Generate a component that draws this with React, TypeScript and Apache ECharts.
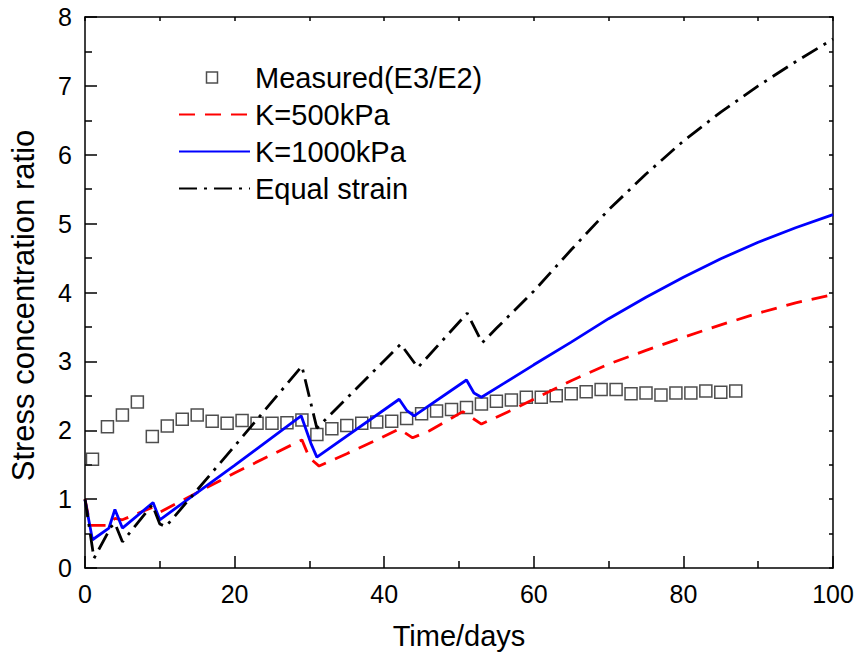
import React, { useEffect, useRef } from "react";
import * as echarts from "echarts";

// Measured (E3/E2)
const measuredX = [1, 3, 5, 7, 9, 11, 13, 15, 17, 19, 21, 23, 25, 27, 29, 31, 33, 35, 37, 39, 41, 43, 45, 47, 49, 51, 53, 55, 57, 59, 61, 63, 65, 67, 69, 71, 73, 75, 77, 79, 81, 83, 85, 87];
const measuredY = [1.58, 2.05, 2.22, 2.41, 1.91, 2.06, 2.16, 2.22, 2.13, 2.10, 2.14, 2.10, 2.10, 2.11, 2.15, 1.94, 2.02, 2.07, 2.10, 2.12, 2.13, 2.17, 2.24, 2.28, 2.30, 2.33, 2.38, 2.42, 2.44, 2.48, 2.48, 2.50, 2.53, 2.56, 2.59, 2.59, 2.53, 2.54, 2.51, 2.54, 2.54, 2.57, 2.55, 2.57];

// K = 500 kPa
const k500X = [0, 0.7, 3, 4, 5, 9, 10, 13, 20, 29, 30, 31.3, 35, 39.4, 42, 43.8, 46, 50.5, 53, 57, 60, 65, 70, 75, 80, 85, 90, 95, 100];
const k500Y = [1.0, 0.62, 0.62, 0.72, 0.70, 0.88, 0.81, 0.98, 1.38, 1.86, 1.60, 1.48, 1.66, 1.88, 2.02, 1.89, 1.99, 2.27, 2.09, 2.29, 2.45, 2.72, 2.96, 3.16, 3.35, 3.53, 3.70, 3.85, 3.97];

// K = 1000 kPa
const k1000X = [0, 1, 3.2, 4, 5, 9.1, 10, 20, 28.9, 30.2, 31, 42, 43, 44, 51, 52, 53, 56, 60, 65, 70, 75, 80, 85, 90, 95, 100];
const k1000Y = [0.99, 0.41, 0.58, 0.85, 0.58, 0.95, 0.70, 1.49, 2.21, 1.81, 1.61, 2.45, 2.29, 2.21, 2.73, 2.54, 2.48, 2.68, 2.95, 3.28, 3.62, 3.93, 4.22, 4.49, 4.73, 4.94, 5.13];

// Equal strain
const equalX = [0, 1.2, 3.5, 4, 5, 9, 10, 10.8, 20, 29, 31, 42.2, 44.5, 51.1, 53.1, 55, 60, 65, 70, 75, 80, 85, 90, 95, 100];
const equalY = [1.0, 0.14, 0.60, 0.65, 0.38, 0.92, 0.64, 0.60, 1.77, 2.93, 2.03, 3.25, 2.91, 3.70, 3.27, 3.48, 4.02, 4.62, 5.20, 5.72, 6.20, 6.62, 7.00, 7.35, 7.68];

const seriesNames = ["Measured(E3/E2)", "K=500kPa", "K=1000kPa", "Equal strain"];

const pairs = (xs: number[], ys: number[]) => xs.map((x, i) => [x, ys[i]]);

const FONT = "'Liberation Sans', Arial, Helvetica, sans-serif";

export default function App() {
  const ref = useRef<HTMLDivElement>(null);
  useEffect(() => {
    if (!ref.current) return;
    const chart = echarts.init(ref.current, undefined, { renderer: "svg" });
    const axisLine = { show: true, onZero: false, lineStyle: { color: "#000", width: 1.5 } };
    const noSymbol = { color: "rgba(0,0,0,0)", borderWidth: 0, opacity: 0 };
    chart.setOption({
      animation: false,
      backgroundColor: "#fff",
      textStyle: { fontFamily: FONT },
      grid: { left: 83, right: 25, top: 17, bottom: 94, containLabel: false },
      legend: {
        orient: "vertical",
        left: 173,
        top: 58,
        itemWidth: 71,
        itemHeight: 12,
        itemGap: 8,
        textStyle: { fontSize: 29, color: "#000", fontFamily: FONT },
        data: [
          {
            name: seriesNames[0],
            icon: "path://M0,0M71,12M27.5,0.5h11v11h-11z",
            itemStyle: { color: "rgba(0,0,0,0)", borderColor: "#222", borderWidth: 1.5 },
          },
          { name: seriesNames[1], itemStyle: noSymbol },
          { name: seriesNames[2], itemStyle: noSymbol },
          { name: seriesNames[3], itemStyle: noSymbol },
        ],
      },
      xAxis: [
        {
          type: "value",
          position: "bottom",
          min: 0,
          max: 100,
          interval: 20,
          name: "Time/days",
          nameLocation: "middle",
          nameGap: 53,
          nameTextStyle: { fontSize: 29, color: "#000", fontFamily: FONT },
          axisLine,
          axisTick: { show: true, inside: true, length: 12, lineStyle: { color: "#000", width: 1.5 } },
          minorTick: { show: true, splitNumber: 2, length: 7, lineStyle: { color: "#000", width: 1.5 } },
          axisLabel: { fontSize: 25, color: "#000", margin: 13, fontFamily: FONT },
          splitLine: { show: false },
        },
        {
          type: "value",
          position: "top",
          min: 0,
          max: 100,
          interval: 10,
          axisLine,
          axisTick: { show: true, inside: true, length: 4, lineStyle: { color: "#000", width: 1.5 } },
          axisLabel: { show: false },
          splitLine: { show: false },
        },
      ],
      yAxis: [
        {
          type: "value",
          position: "left",
          min: 0,
          max: 8,
          interval: 1,
          name: "Stress concentration ratio",
          nameLocation: "middle",
          nameGap: 46,
          nameTextStyle: { fontSize: 31, color: "#000", fontFamily: FONT, padding: [0, 26, 0, 0] },
          axisLine,
          axisTick: { show: true, inside: true, length: 12, lineStyle: { color: "#000", width: 1.5 } },
          minorTick: { show: true, splitNumber: 2, length: 7, lineStyle: { color: "#000", width: 1.5 } },
          axisLabel: { fontSize: 25, color: "#000", margin: 13, fontFamily: FONT },
          splitLine: { show: false },
        },
        {
          type: "value",
          position: "right",
          min: 0,
          max: 8,
          interval: 0.5,
          axisLine,
          axisTick: { show: true, inside: true, length: 4, lineStyle: { color: "#000", width: 1.5 } },
          axisLabel: { show: false },
          splitLine: { show: false },
        },
      ],
      series: [
        {
          name: seriesNames[0],
          type: "scatter",
          xAxisIndex: 0,
          yAxisIndex: 0,
          symbol: "rect",
          symbolSize: 12,
          itemStyle: { color: "rgba(0,0,0,0)", borderColor: "#222", borderWidth: 1.5 },
          data: pairs(measuredX, measuredY),
          z: 2,
        },
        {
          name: seriesNames[1],
          type: "line",
          xAxisIndex: 0,
          yAxisIndex: 0,
          symbol: "none",
          showSymbol: false,
          color: "#ff0000",
          lineStyle: { color: "#ff0000", width: 2.8, type: [16, 10] },
          data: pairs(k500X, k500Y),
          z: 3,
        },
        {
          name: seriesNames[2],
          type: "line",
          xAxisIndex: 0,
          yAxisIndex: 0,
          symbol: "none",
          showSymbol: false,
          color: "#0000ff",
          lineStyle: { color: "#0000ff", width: 2.8, type: "solid" },
          data: pairs(k1000X, k1000Y),
          z: 3,
        },
        {
          name: seriesNames[3],
          type: "line",
          xAxisIndex: 0,
          yAxisIndex: 0,
          symbol: "none",
          showSymbol: false,
          color: "#000000",
          lineStyle: { color: "#000000", width: 2.8, type: [18, 7, 3, 7] },
          data: pairs(equalX, equalY),
          z: 3,
        },
      ],
    });
    return () => chart.dispose();
  }, []);
  return <div ref={ref} style={{ position: "absolute", left: 0, top: 0, width: 858, height: 662 }} />;
}
